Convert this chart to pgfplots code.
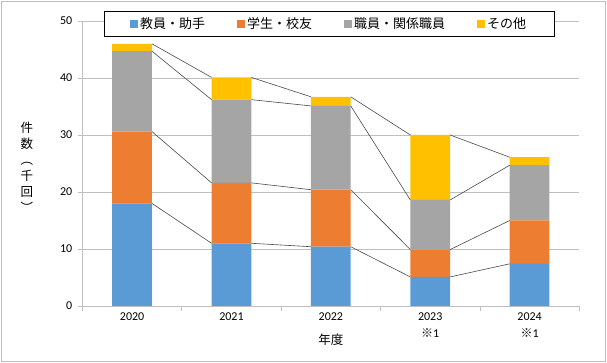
\documentclass[border=0pt]{standalone}
\usepackage{fontspec}
\setmainfont{Carlito}
\newfontfamily\jp{Noto Sans CJK JP}
\usepackage{pgfplots}
\pgfplotsset{compat=1.18}
\usepackage{pgfplotstable}
\definecolor{cblue}{HTML}{5B9BD5}
\definecolor{corange}{HTML}{ED7D31}
\definecolor{cgray}{HTML}{A5A5A5}
\definecolor{cyellow}{HTML}{FFC000}
\definecolor{gridc}{HTML}{BFBFBF}
\definecolor{linec}{HTML}{4A4A4A}

\pgfplotstableread{
x blue orange gray other
0 18.0 12.6 14.1 1.3
1 11.0 10.6 14.6 3.9
2 10.4 10.0 14.7 1.6
3 5.1 4.8 8.7 11.4
4 7.4 7.6 9.7 1.4
}\datatable

\begin{document}
\begin{tikzpicture}[x=1pt,y=1pt]
\useasboundingbox (0,0) rectangle (607,363);
\draw[gridc, line width=0.8pt] (1.2,1.8) rectangle (605.3,361.8);
\pgfplotsset{base/.style={
  scale only axis, width=496.9pt, height=285pt,
  at={(82.4pt,57pt)}, anchor=south west,
  xmin=-0.5, xmax=4.5, ymin=0, ymax=50,
}}
\begin{axis}[base,
  ybar stacked, bar width=0.4,
  axis x line*=bottom, axis y line*=left,
  axis line style={gridc, line width=0.75pt},
  ymajorgrids, grid style={gridc, line width=0.75pt},
  tick align=outside, tick style={gridc, line width=0.75pt},
  major tick length=4.6pt,
  ytick={0,10,...,50},
  /pgf/number format/assume math mode=true,
  yticklabel style={font=\fontsize{12}{14}\selectfont, xshift=-2pt},
  xtick={-0.5,0.5,...,4.5}, xticklabels={},
  extra x ticks={0,1,2,3,4},
  extra x tick labels={2020,2021,2022,{2023\\{\jp ※}1},{2024\\{\jp ※}1}},
  extra x tick style={major tick length=0pt,
    xticklabel style={align=center, anchor=north, yshift=-3pt,
      font=\fontsize{12}{17}\selectfont}},
  xlabel={年度},
  every axis x label/.style={at={(rel axis cs:0.5,0)}, anchor=center, yshift=-34pt,
    font=\jp\fontsize{12.5}{15}\selectfont},
  ylabel={件\\数\\︵\\千\\回\\︶},
  every axis y label/.style={at={(rel axis cs:0,0.5)}, anchor=center, xshift=-55.4pt,
    yshift=-4pt, align=center, font=\jp\fontsize{12.5}{16}\selectfont},
  legend columns=4,
  legend image code/.code={\fill[#1,draw=none] (0pt,-4pt) rectangle (8pt,4pt);},
  legend style={at={(0.4963,0.9895)}, anchor=center, draw=black, line width=0.75pt,
    fill=white, font=\jp\fontsize{13}{15}\selectfont,
    inner xsep=26pt, inner ysep=4pt,
    /tikz/every even column/.append style={column sep=30pt}},
]
\addplot[fill=cblue, draw=none] table[x=x, y=blue] {\datatable};
\addplot[fill=corange, draw=none] table[x=x, y=orange] {\datatable};
\addplot[fill=cgray, draw=none] table[x=x, y=gray] {\datatable};
\addplot[fill=cyellow, draw=none] table[x=x, y=other] {\datatable};
\legend{教員・助手,学生・校友,職員・関係職員,その他}
\end{axis}
\begin{axis}[base, hide axis, unbounded coords=jump]
\addplot[linec, line width=0.6pt] coordinates {(0.2,18.0)(0.8,11.0)(1,nan)(1.2,11.0)(1.8,10.4)(2,nan)(2.2,10.4)(2.8,5.1)(3,nan)(3.2,5.1)(3.8,7.4)};
\addplot[linec, line width=0.6pt] coordinates {(0.2,30.6)(0.8,21.6)(1,nan)(1.2,21.6)(1.8,20.4)(2,nan)(2.2,20.4)(2.8,9.9)(3,nan)(3.2,9.9)(3.8,15.0)};
\addplot[linec, line width=0.6pt] coordinates {(0.2,44.7)(0.8,36.2)(1,nan)(1.2,36.2)(1.8,35.1)(2,nan)(2.2,35.1)(2.8,18.6)(3,nan)(3.2,18.6)(3.8,24.7)};
\addplot[linec, line width=0.6pt] coordinates {(0.2,46.0)(0.8,40.1)(1,nan)(1.2,40.1)(1.8,36.7)(2,nan)(2.2,36.7)(2.8,30.0)(3,nan)(3.2,30.0)(3.8,26.1)};
\end{axis}
\end{tikzpicture}
\end{document}
